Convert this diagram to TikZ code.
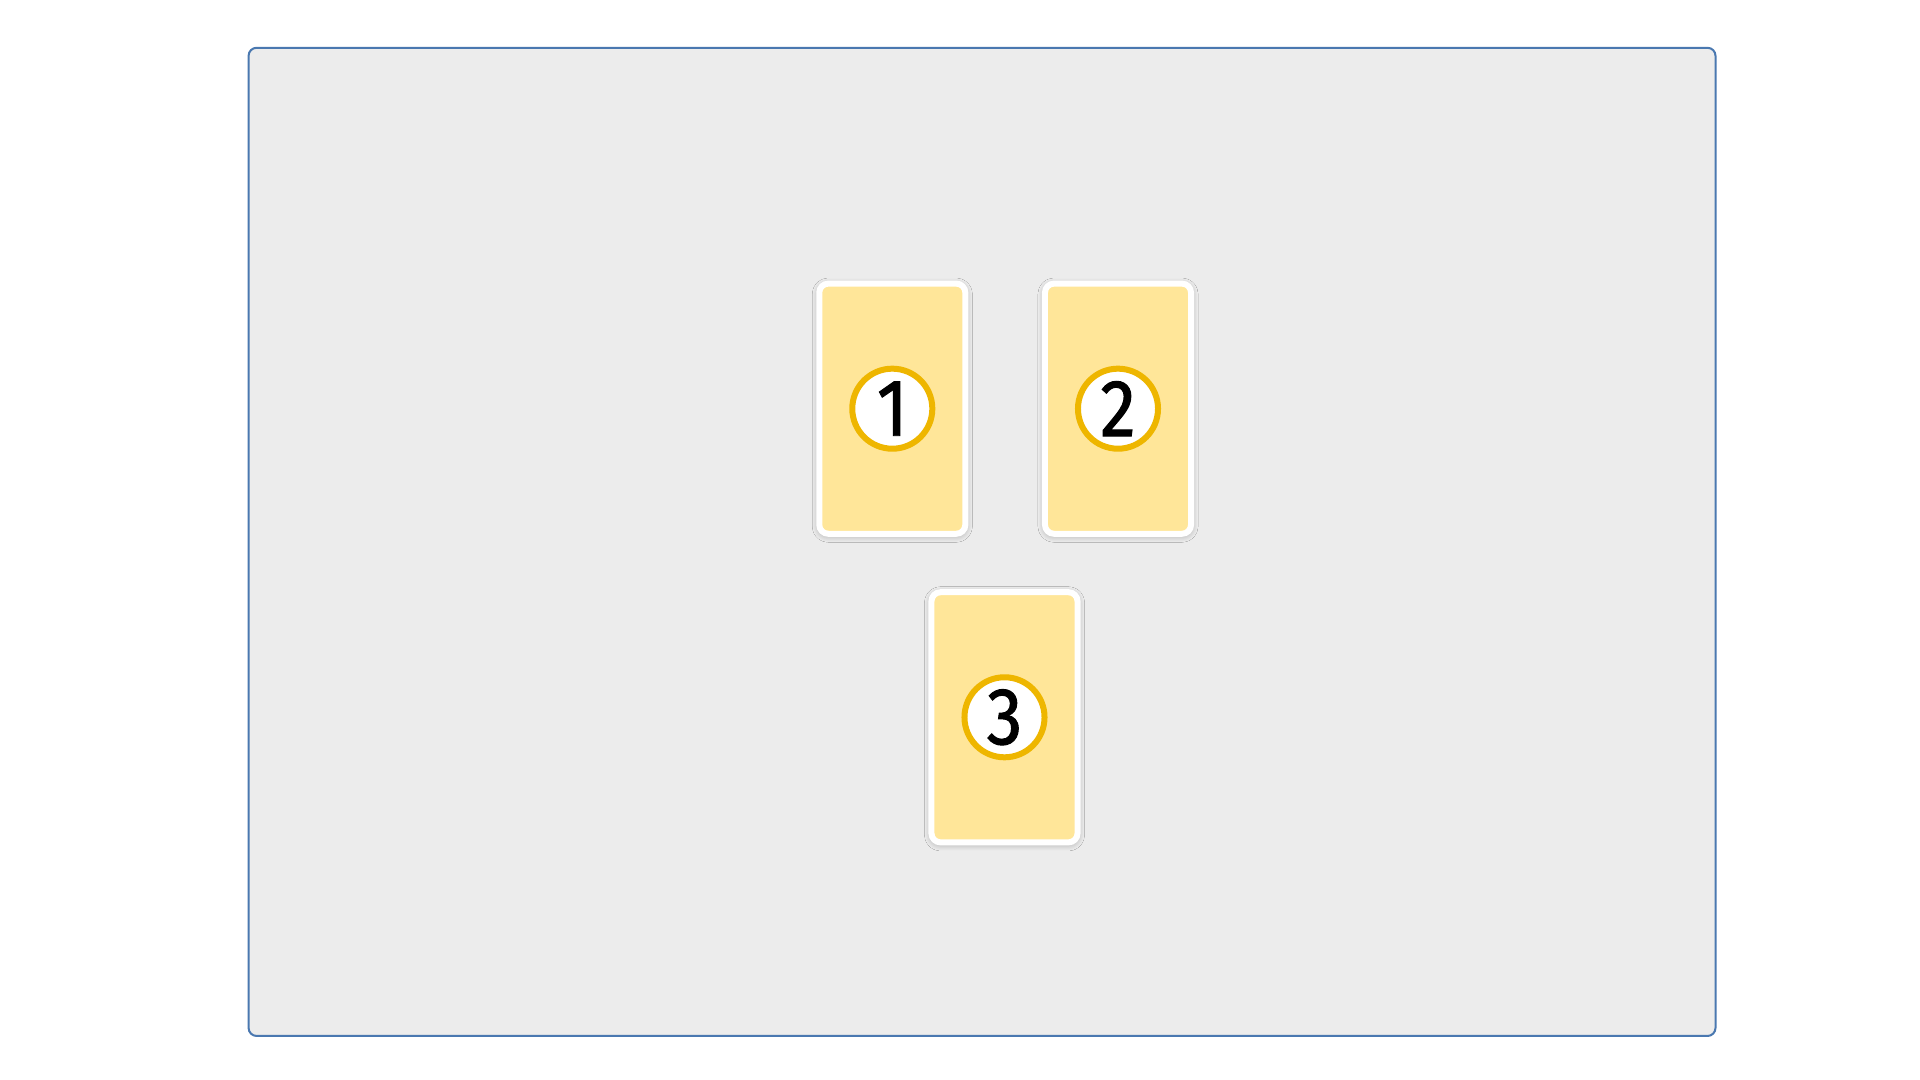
\documentclass[tikz,border=0pt]{standalone}
\usepackage{fontspec}
\setmainfont{Fira Sans}[FakeStretch=0.88, FakeBold=1.2]
\usetikzlibrary{shadows.blur}
\definecolor{framebg}{HTML}{ECECEC}
\definecolor{frameline}{HTML}{4A78B0}
\definecolor{cardfill}{HTML}{FFE699}
\definecolor{ringline}{HTML}{EEB600}
\tikzset{
  card/.style={rectangle, draw=white, line width=0.06cm, fill=cardfill,
    rounded corners=0.09cm, minimum width=1.46cm, minimum height=2.5cm,
    blur shadow={shadow xshift=0cm, shadow yshift=-0.015cm, shadow scale=1.0,
      shadow blur steps=16, shadow blur radius=0.07cm, shadow blur extra rounding=0.05cm, shadow opacity=32}},
  ring/.style={circle, draw=ringline, line width=0.06cm, fill=white,
    minimum size=0.8cm, inner sep=0pt, font=\fontsize{23}{25}\selectfont}
}
\begin{document}
\begin{tikzpicture}[x=0.01cm, y=-0.01cm]
  \useasboundingbox (0, 0) rectangle (1920, 1080);
  %%%%% frame %%%%%
  \draw[frameline, fill=framebg, line width=0.02cm, rounded corners=0.08cm] (248.6, 47.8) rectangle (1715.5, 1036);

  %%%%% cards %%%%%
  \node[card] (card1) at (892.3, 408.7) {};
  \node[card] (card2) at (1118, 408.7) {};
  \node[card] (card3) at (1004.5, 717.3) {};

  \node[ring] (num1) at (card1.center) {1};
  \node[ring] (num2) at (card2.center) {2};
  \node[ring] (num3) at (card3.center) {3};
\end{tikzpicture}
\end{document}
